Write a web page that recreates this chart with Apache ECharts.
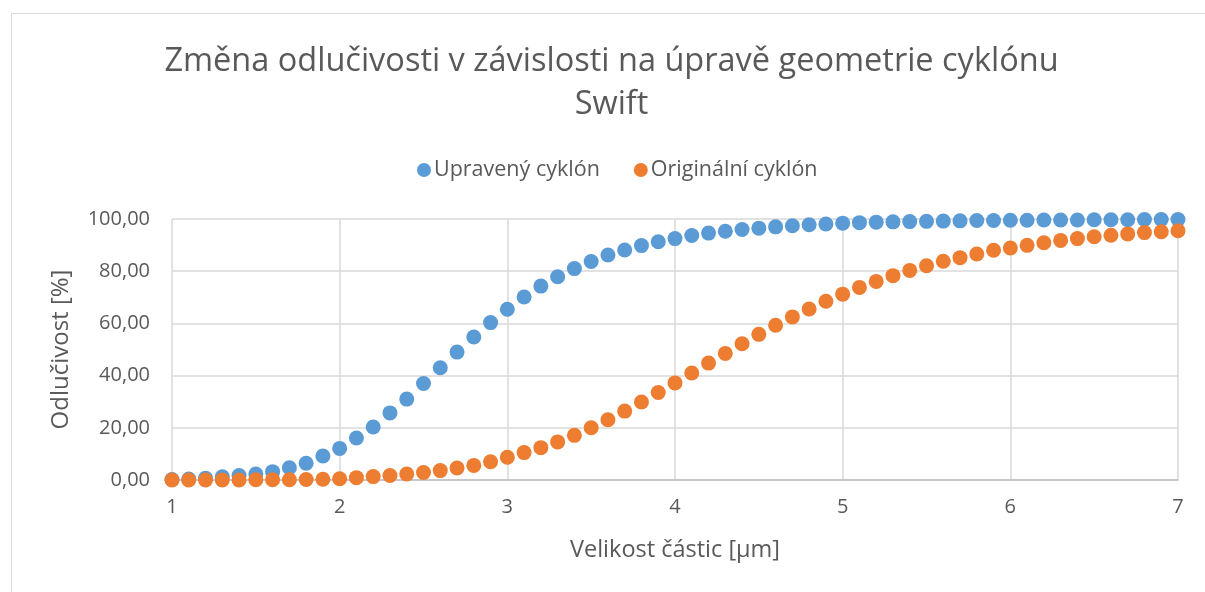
<!DOCTYPE html>
<html>
<head>
<meta charset="utf-8">
<script src="https://cdn.jsdelivr.net/npm/echarts@6/dist/echarts.min.js"></script>
<style>
  html, body { margin: 0; padding: 0; background: #fff; }
  #chart { width: 1205px; height: 592px; }
</style>
</head>
<body>
<div id="chart"></div>
<script>
// Particle size [µm], 1.0 to 7.0 in steps of 0.1
const particleSize = [
  1.0, 1.1, 1.2, 1.3, 1.4, 1.5, 1.6, 1.7, 1.8, 1.9,
  2.0, 2.1, 2.2, 2.3, 2.4, 2.5, 2.6, 2.7, 2.8, 2.9,
  3.0, 3.1, 3.2, 3.3, 3.4, 3.5, 3.6, 3.7, 3.8, 3.9,
  4.0, 4.1, 4.2, 4.3, 4.4, 4.5, 4.6, 4.7, 4.8, 4.9,
  5.0, 5.1, 5.2, 5.3, 5.4, 5.5, 5.6, 5.7, 5.8, 5.9,
  6.0, 6.1, 6.2, 6.3, 6.4, 6.5, 6.6, 6.7, 6.8, 6.9,
  7.0
];

// Separation efficiency [%] of the modified cyclone
const modifiedCyclone = [
  0.2, 0.4, 0.7, 1.2, 1.7, 2.3, 3.2, 4.7, 6.4, 9.2,
  12.1, 16.1, 20.3, 25.7, 31.0, 37.0, 43.0, 49.0, 54.8, 60.3,
  65.4, 70.1, 74.3, 77.9, 81.0, 83.7, 86.2, 88.1, 89.8, 91.3,
  92.5, 93.7, 94.6, 95.3, 96.0, 96.5, 97.0, 97.4, 97.8, 98.1,
  98.4, 98.6, 98.8, 98.9, 99.0, 99.1, 99.2, 99.3, 99.4, 99.4,
  99.5, 99.5, 99.6, 99.6, 99.6, 99.7, 99.7, 99.7, 99.8, 99.8,
  99.8
];

// Separation efficiency [%] of the original cyclone
const originalCyclone = [
  0.0, 0.0, 0.0, 0.0, 0.0, 0.1, 0.1, 0.1, 0.2, 0.3,
  0.5, 0.9, 1.3, 1.7, 2.3, 2.9, 3.6, 4.6, 5.6, 7.0,
  8.7, 10.5, 12.4, 14.6, 17.1, 20.0, 23.1, 26.4, 29.9, 33.5,
  37.2, 41.0, 44.8, 48.5, 52.2, 55.8, 59.3, 62.5, 65.5, 68.5,
  71.2, 73.8, 76.1, 78.3, 80.3, 82.1, 83.8, 85.2, 86.6, 88.0,
  88.9, 89.9, 90.9, 91.8, 92.5, 93.2, 93.8, 94.3, 94.8, 95.1,
  95.5
];

const seriesNames = ['Upravený cyklón', 'Originální cyklón'];
const yTicks = [0, 20, 40, 60, 80, 100];

const FONT = '"Open Sans", "Noto Sans", sans-serif';
const TEXT = '#595959';

const pairs = (ys) => particleSize.map((x, i) => [x, ys[i]]);

const chart = echarts.init(document.getElementById('chart'), null, { renderer: 'canvas' });

chart.setOption({
  backgroundColor: '#ffffff',
  animation: false,
  graphic: [{
    type: 'rect',
    shape: { x: 11.5, y: 13.5, width: 1300, height: 700 },
    style: { fill: 'none', stroke: '#d9d9d9', lineWidth: 1 },
    silent: true,
    z: -10
  }],
  title: {
    text: 'Změna odlučivosti v závislosti na úpravě geometrie cyklónu\nSwift',
    // centred on the middle of the outer frame
    left: 606.5,
    textAlign: 'center',
    top: 35,
    textStyle: {
      fontFamily: FONT,
      fontWeight: 'normal',
      fontSize: 32.5,
      color: TEXT,
      lineHeight: 43
    }
  },
  legend: {
    data: seriesNames,
    top: 154,
    left: 412,
    icon: 'circle',
    itemWidth: 14,
    itemHeight: 14,
    itemGap: 34,
    textStyle: { fontFamily: FONT, fontSize: 21.5, color: TEXT, padding: [0, 0, 0, -2] }
  },
  grid: { left: 172, right: 27, top: 219, bottom: 112, containLabel: false },
  xAxis: {
    type: 'value',
    min: 1,
    max: 7,
    interval: 1,
    name: 'Velikost částic [μm]',
    nameLocation: 'middle',
    nameGap: 58,
    nameTextStyle: { fontFamily: FONT, fontSize: 23.5, color: TEXT },
    axisLine: { show: true, lineStyle: { color: '#bfbfbf', width: 1.5 } },
    axisTick: { show: false },
    axisLabel: { fontFamily: FONT, fontSize: 20, color: TEXT, margin: 17 },
    splitLine: { show: true, lineStyle: { color: '#d9d9d9', width: 1.5 } }
  },
  yAxis: {
    type: 'value',
    min: 0,
    max: 100,
    interval: 20,
    name: 'Odlučivost [%]',
    nameLocation: 'middle',
    nameGap: 99,
    nameRotate: 90,
    nameTextStyle: { fontFamily: FONT, fontSize: 24, color: TEXT },
    axisLine: { show: false },
    axisTick: { show: false },
    axisLabel: {
      fontFamily: FONT, fontSize: 20, color: TEXT, margin: 22,
      formatter: (v) => yTicks.includes(v) ? v.toFixed(2).replace('.', ',') : ''
    },
    splitLine: { show: true, lineStyle: { color: '#d9d9d9', width: 1.5 } }
  },
  series: [
    {
      name: seriesNames[0],
      type: 'scatter',
      symbol: 'circle',
      symbolSize: 15,
      itemStyle: { color: '#5b9bd5', opacity: 1 },
      data: pairs(modifiedCyclone),
      z: 2
    },
    {
      name: seriesNames[1],
      type: 'scatter',
      symbol: 'circle',
      symbolSize: 15,
      itemStyle: { color: '#ed7d31', opacity: 1 },
      data: pairs(originalCyclone),
      z: 3
    }
  ]
});
</script>
</body>
</html>
